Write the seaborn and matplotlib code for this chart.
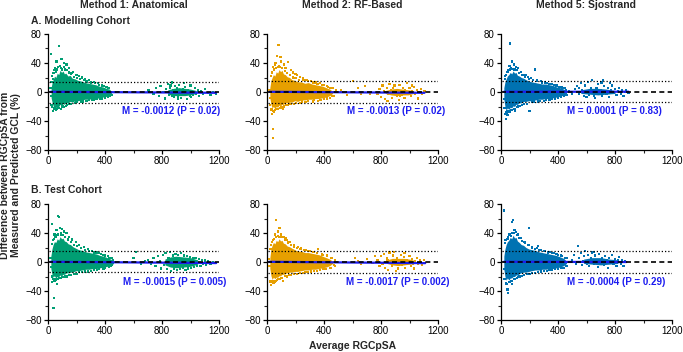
import matplotlib
matplotlib.use('Agg')
import matplotlib.pyplot as plt
import seaborn as sns
import pandas as pd
from matplotlib.ticker import MultipleLocator

# --- chart values ---
methods = ['Method 1: Anatomical', 'Method 2: RF-Based', 'Method 5: Sjostrand']
cohorts = ['A. Modelling Cohort', 'B. Test Cohort']
colors = ['#009E73', '#E69F00', '#0072B2']

slopes = [[-0.0012, -0.0013, 0.0001], [-0.0015, -0.0017, -0.0004]]
p_values = [['0.02', '0.02', '0.83'], ['0.005', '0.002', '0.29']]
loa_upper = [[14.4, 15.5, 14.6], [15.2, 15.2, 15.0]]
loa_lower = [[-14.8, -15.3, -14.4], [-14.4, -14.7, -14.7]]

# dense core of each cloud: x, lower edge, upper edge
core_x_a = [22, 30, 38, 46, 55, 65, 75, 85, 95, 105, 115, 125, 140, 155, 170, 190, 210, 235, 260, 285, 310, 335, 360, 385, 410, 430, 445]
core_x_b = [20, 28, 36, 45, 55, 65, 75, 85, 95, 105, 115, 128, 142, 158, 175, 195, 215, 240, 265, 290, 315, 340, 365, 390, 415, 440, 460]
a1_core_hi = [6, 14, 18, 22, 20, 26, 24, 30, 27, 29, 25, 26, 22, 23, 19, 18, 16, 15, 13, 12, 11, 10, 8, 7, 5, 4, 1]
a1_core_lo = [-8, -15, -20, -18, -22, -19, -20, -17, -19, -16, -17, -15, -15, -13, -14, -12, -12, -11, -10, -10, -9, -9, -8, -7, -6, -5, -2]
a2_core_hi = [6, 16, 20, 24, 22, 28, 26, 31, 28, 30, 25, 24, 21, 20, 17, 16, 14, 14, 12, 13, 11, 10, 9, 8, 6, 4, 1]
a2_core_lo = [-8, -17, -22, -20, -23, -20, -21, -18, -19, -17, -17, -15, -15, -14, -14, -12, -13, -11, -11, -10, -10, -9, -9, -8, -7, -5, -2]
a3_core_hi = [6, 14, 18, 22, 24, 27, 25, 29, 26, 27, 23, 22, 20, 19, 17, 15, 14, 13, 12, 11, 11, 10, 9, 7, 6, 4, 1]
a3_core_lo = [-10, -20, -25, -22, -24, -21, -22, -19, -20, -17, -17, -15, -15, -13, -13, -12, -12, -11, -10, -10, -9, -9, -8, -7, -6, -4, -2]
b1_core_hi = [8, 18, 24, 28, 27, 32, 30, 35, 32, 33, 29, 28, 25, 24, 21, 19, 17, 16, 14, 13, 12, 11, 9, 8, 6, 4, 1]
b1_core_lo = [-9, -17, -21, -19, -22, -20, -20, -18, -19, -17, -17, -15, -15, -14, -14, -12, -12, -11, -10, -10, -9, -9, -8, -7, -6, -5, -2]
b2_core_hi = [6, 18, 23, 27, 25, 30, 28, 32, 29, 30, 26, 25, 22, 21, 19, 17, 15, 15, 13, 13, 12, 11, 10, 8, 6, 4, 1]
b2_core_lo = [-9, -19, -24, -21, -23, -21, -21, -19, -19, -17, -17, -16, -15, -14, -14, -13, -13, -12, -11, -11, -10, -10, -9, -8, -7, -5, -2]
b3_core_hi = [8, 18, 24, 28, 30, 34, 32, 37, 33, 34, 29, 27, 24, 23, 20, 18, 17, 16, 14, 13, 12, 11, 10, 9, 7, 5, 1]
b3_core_lo = [-10, -20, -25, -22, -25, -22, -22, -20, -20, -18, -18, -16, -15, -14, -14, -13, -12, -11, -11, -10, -10, -9, -9, -8, -7, -5, -2]

# thin dense strip inside the far cluster of each panel
a1_far = ([840, 880, 920, 960, 1000, 1040], [-3, -5, -5, -5, -4, -2], [3, 5, 6, 5, 4, 2])
a2_far = ([830, 870, 910, 950, 990, 1030], [-2, -4, -5, -4, -4, -2], [2, 4, 5, 4, 3, 2])
a3_far = ([560, 620, 680, 740, 800], [-2, -3, -4, -3, -2], [3, 5, 5, 4, 2])
b1_far = ([820, 860, 900, 950, 1000, 1050], [-4, -7, -8, -7, -6, -3], [4, 7, 8, 7, 6, 3])
b2_far = ([840, 880, 920, 960, 1000, 1040], [-2, -4, -5, -4, -3, -2], [3, 5, 5, 5, 4, 2])
b3_far = ([580, 640, 700, 760, 820], [-2, -3, -4, -3, -2], [4, 6, 6, 4, 3])

# single points outside the dense cores (x, y)
a1_pts = [(75, 64), (22, 52), (95, 45), (60, 42), (110, 40), (130, 38), (85, 36), (150, 33), (70, 34),
          (45, 30), (120, 31), (175, 28), (200, 24), (165, 26), (240, 20), (260, 18), (290, 16), (320, 14),
          (350, 12), (215, 22), (270, 15), (380, 9), (410, 7), (430, 5), (300, 13),
          (35, -26), (45, -24), (60, -23), (30, -20), (80, -22), (100, -20), (125, -19), (150, -17),
          (190, -15), (230, -13), (270, -12), (310, -11), (340, -10), (380, -9), (420, -7), (445, -4),
          (50, -21), (110, -21), (20, -5), (18, 6), (25, 14),
          (30, 22), (38, 26), (50, 33), (55, 28), (65, 31), (90, 33), (100, 31), (115, 34), (135, 30),
          (145, 27), (160, 25), (185, 21), (205, 19), (225, 18), (250, 16), (275, 14), (300, 12),
          (330, 12), (360, 10), (395, 8), (420, 6), (40, -22), (55, -25), (70, -21), (90, -23),
          (105, -19), (135, -18), (160, -16), (200, -14), (245, -13), (285, -11), (325, -11),
          (365, -10), (400, -8), (435, -5), (25, -18), (33, 18),
          (705, 2), (740, -3), (760, 5), (780, -6), (790, 8), (810, 0), (820, -9), (830, 4), (840, 11),
          (850, -4), (855, 6), (865, -2), (870, 13), (880, 3), (885, -7), (890, 8), (900, -1), (905, 5),
          (915, -5), (920, 10), (930, 1), (935, -8), (945, 4), (950, -3), (960, 7), (970, -1), (975, -10),
          (985, 3), (995, -5), (1000, 9), (1010, 0), (1020, -4), (1030, 5), (1040, -2), (1050, 2),
          (1060, -6), (1075, 1), (1090, -3), (1100, 4), (1120, -1), (1140, -4), (1160, 0), (1180, -2),
          (870, -5), (910, -9), (955, 12), (1005, -7), (925, -3), (895, 2), (860, 9)]
a2_pts = [(81, 65), (70, 50), (95, 48), (150, 41), (60, 40), (120, 38), (100, 42), (85, 36), (40, 34),
          (130, 33), (170, 30), (200, 25), (185, 27), (230, 21), (250, 19), (280, 17), (310, 15), (340, 13),
          (370, 12), (400, 10), (430, 7), (460, 5), (485, 3), (210, 23), (55, 37), (265, 16),
          (42, -51), (40, -63), (35, -30), (50, -27), (30, -25), (65, -24), (80, -23), (100, -21),
          (120, -20), (150, -18), (190, -16), (230, -15), (270, -14), (320, -13), (360, -12), (400, -10),
          (440, -8), (470, -5), (20, -8), (18, 3), (110, -24),
          (28, 22), (35, 27), (48, 31), (62, 33), (78, 35), (92, 34), (108, 33), (125, 29), (140, 26),
          (160, 23), (180, 20), (200, 19), (225, 17), (255, 16), (285, 15), (320, 13), (355, 11),
          (385, 10), (420, 8), (445, 6), (32, -24), (45, -26), (58, -25), (75, -24), (95, -22),
          (115, -21), (135, -18), (165, -17), (205, -15), (245, -13), (285, -12), (330, -11),
          (375, -11), (420, -9), (455, -6), (22, -18),
          (605, 15), (640, 5), (660, -3), (520, 2), (560, -4), (690, 8), (720, -2),
          (775, -2), (790, 4), (800, -7), (810, 9), (820, 1), (830, -10), (840, 6), (850, -3), (860, 11),
          (870, 2), (875, -8), (885, 5), (890, -1), (900, 8), (910, -5), (915, 3), (925, -11), (930, 10),
          (940, 0), (950, -4), (955, 6), (965, -8), (970, 2), (980, 12), (990, -2), (1000, 5), (1010, -6),
          (1020, 1), (1030, 7), (1040, -3), (1050, 3), (1060, -9), (1070, 0), (1080, 4), (1090, -2),
          (1105, 1), (845, -12), (935, -6), (895, 9), (1015, 9)]
a3_pts = [(65, 67), (75, 42), (90, 38), (60, 36), (105, 35), (238, 31), (120, 33), (80, 32), (45, 28),
          (140, 28), (160, 24), (190, 21), (210, 19), (250, 17), (280, 15), (310, 13), (340, 11), (370, 10),
          (410, 7), (430, 5), (455, 3), (30, 18), (175, 23),
          (35, -37), (30, -30), (45, -32), (55, -28), (40, -27), (70, -25), (90, -23), (110, -21),
          (130, -19), (160, -17), (200, -26), (220, -14), (260, -13), (300, -12), (340, -11), (380, -9),
          (420, -7), (460, -4), (20, -10), (100, -26),
          (28, 22), (36, 24), (50, 30), (62, 31), (70, 33), (95, 31), (110, 30), (128, 26), (150, 23),
          (170, 21), (195, 18), (225, 16), (255, 15), (285, 13), (320, 12), (355, 11), (390, 9),
          (425, 7), (445, 5), (25, -22), (33, -28), (42, -29), (60, -27), (80, -25), (95, -23),
          (120, -20), (145, -18), (180, -16), (230, -13), (270, -12), (315, -11), (355, -10),
          (400, -8), (440, -6),
          (480, 1), (500, -3), (520, 4), (535, 8), (550, -2), (560, 12), (570, 3), (580, -6), (590, 9),
          (600, 1), (610, 14), (620, -4), (630, 6), (640, 16), (650, 0), (660, -8), (670, 5), (680, 11),
          (690, -2), (700, 3), (710, -5), (715, 17), (720, 8), (730, 0), (740, -3), (750, 6), (760, -7),
          (770, 2), (780, 9), (790, -1), (800, 4), (810, -4), (820, 1), (830, 6), (840, -2), (850, 3),
          (860, -6), (870, 0), (880, 2), (895, -1), (650, -5), (600, -7), (545, 5), (765, 12), (705, 13)]
b1_pts = [(68, 64), (78, 62), (28, 52), (85, 47), (100, 45), (60, 44), (115, 42), (130, 40), (90, 40),
          (45, 38), (150, 35), (170, 31), (195, 28), (220, 24), (250, 21), (280, 18), (310, 15), (340, 13),
          (370, 11), (400, 9), (430, 6), (455, 3), (620, 14), (35, 30),
          (40, -50), (38, -63), (30, -28), (45, -26), (55, -25), (70, -24), (90, -22), (110, -21),
          (130, -20), (160, -18), (200, -16), (240, -14), (280, -13), (320, -11), (360, -10), (400, -8),
          (440, -6), (20, -7), (18, 5), (65, -30),
          (30, 25), (40, 32), (52, 35), (62, 37), (72, 38), (95, 37), (108, 37), (122, 34), (140, 31),
          (160, 28), (180, 24), (205, 22), (230, 19), (260, 17), (290, 15), (325, 13), (355, 12),
          (385, 10), (420, 8), (445, 5), (26, -20), (35, -24), (48, -23), (62, -24), (80, -22),
          (100, -21), (120, -19), (145, -18), (180, -16), (220, -14), (260, -13), (300, -12),
          (345, -11), (390, -9), (430, -7), (450, -4),
          (700, 3), (720, -2), (740, 5), (755, -6), (770, 8), (785, 1), (795, -9), (805, 10), (815, -4),
          (825, 12), (835, -10), (845, 6), (855, 14), (865, -12), (875, 9), (885, -9), (895, 11),
          (905, -11), (915, 10), (925, -10), (935, 12), (945, -8), (955, 9), (965, -11), (975, 8),
          (985, -9), (995, 7), (1005, -8), (1015, 6), (1025, -7), (1035, 5), (1045, -6), (1060, 4),
          (1070, -5), (1080, 3), (1090, -3), (1100, 2), (1110, -4), (1125, 1), (1140, -2), (1160, 0),
          (1180, -1), (600, 6), (650, -2), (680, 1)]
b2_pts = [(65, 58), (88, 47), (75, 42), (55, 38), (100, 38), (120, 35), (85, 34), (40, 30), (140, 30),
          (160, 28), (190, 24), (215, 21), (240, 19), (270, 17), (300, 15), (330, 14), (360, 18), (390, 10),
          (420, 8), (450, 5), (475, 3), (25, 18), (130, 33),
          (30, -32), (25, -27), (45, -29), (60, -26), (80, -24), (100, -22), (115, -26), (140, -20),
          (170, -18), (210, -16), (250, -15), (290, -14), (330, -12), (370, -11), (410, -10), (450, -8),
          (480, -5), (18, -6), (15, 4),
          (28, 24), (36, 28), (48, 32), (62, 35), (78, 36), (95, 35), (110, 34), (128, 30), (148, 27),
          (168, 24), (190, 21), (210, 19), (235, 18), (260, 16), (290, 15), (320, 14), (350, 12),
          (385, 11), (420, 9), (455, 6), (30, -26), (40, -27), (52, -28), (70, -25), (90, -23),
          (108, -22), (130, -19), (155, -18), (190, -16), (230, -15), (270, -14), (310, -13),
          (350, -12), (395, -10), (440, -8), (470, -4),
          (620, 6), (660, -2), (700, 4), (740, -1), (760, 8), (640, 1),
          (775, 3), (790, -5), (800, 8), (810, -2), (820, 11), (830, -8), (840, 5), (850, -11), (860, 13),
          (870, 0), (880, -6), (885, 9), (890, 14), (900, -3), (910, 6), (920, -9), (930, 2), (940, 10),
          (950, -4), (960, 7), (970, -8), (980, 3), (990, -1), (1000, 8), (1010, -5), (1020, 4),
          (1030, -9), (1040, 1), (1050, 6), (1060, -3), (1075, 2), (1090, -4), (1100, 3), (1110, -1),
          (845, 2), (905, -12), (965, 12), (1025, -2)]
b3_pts = [(23, 71), (86, 58), (75, 55), (197, 47), (95, 44), (105, 41), (60, 38), (120, 38), (140, 33),
          (80, 40), (45, 32), (165, 28), (195, 24), (220, 21), (250, 19), (280, 17), (310, 15), (340, 14),
          (370, 12), (400, 10), (430, 8), (460, 5), (30, 30), (260, 22),
          (51, -43), (45, -38), (35, -30), (55, -28), (70, -26), (90, -24), (110, -22), (130, -20),
          (160, -18), (200, -16), (240, -15), (280, -13), (320, -12), (360, -11), (400, -10), (440, -8),
          (465, -5), (20, -10), (80, -30),
          (28, 26), (36, 30), (50, 35), (65, 38), (72, 36), (92, 40), (112, 37), (130, 33), (150, 29),
          (170, 26), (190, 23), (215, 20), (240, 18), (270, 16), (300, 15), (330, 13), (360, 12),
          (390, 11), (420, 9), (450, 6), (25, -24), (33, -29), (42, -30), (62, -28), (78, -26),
          (98, -24), (120, -21), (145, -19), (180, -17), (220, -15), (260, -14), (300, -12),
          (340, -11), (380, -10), (425, -8), (460, -5),
          (500, 2), (515, 10), (525, -3), (540, 22), (550, 5), (560, 12), (570, -4), (580, 8), (590, 15),
          (600, 1), (610, 10), (620, -6), (630, 6), (640, 13), (650, -2), (660, 9), (670, 3), (680, -7),
          (690, 11), (700, 0), (710, 5), (720, -4), (730, 8), (740, 2), (750, -8), (760, 6), (770, 0),
          (780, 10), (790, -3), (800, 4), (810, -5), (820, 2), (830, 7), (840, -2), (850, 3), (860, -6),
          (870, 1), (880, 0), (575, 1), (605, -3), (655, 14)]

cores = [[(core_x_a, a1_core_lo, a1_core_hi), (core_x_b, a2_core_lo, a2_core_hi), (core_x_b, a3_core_lo, a3_core_hi)],
         [(core_x_b, b1_core_lo, b1_core_hi), (core_x_b, b2_core_lo, b2_core_hi), (core_x_b, b3_core_lo, b3_core_hi)]]
fars = [[a1_far, a2_far, a3_far], [b1_far, b2_far, b3_far]]
points = [[a1_pts, a2_pts, a3_pts], [b1_pts, b2_pts, b3_pts]]

# --- layout ---
W, H = 683, 352
col_left = [48, 267, 501]
row_top = [34, 204]
ax_w, ax_h = 171, 116
label_x = [[522, 558, 465], [527, 556, 464]]
blue = '#1c1cf0'

sns.set_style('ticks')
plt.rcParams['font.family'] = ['Liberation Sans', 'DejaVu Sans']

fig = plt.figure(figsize=(W / 100, H / 100), dpi=100)

for r in range(2):
    for c in range(3):
        ax = fig.add_axes([col_left[c] / W, 1 - (row_top[r] + ax_h) / H, ax_w / W, ax_h / H])
        col = colors[c]
        cx, clo, chi = cores[r][c]
        ax.fill_between(cx, clo, chi, color=col, lw=0, zorder=2)
        fx, flo, fhi = fars[r][c]
        ax.fill_between(fx, flo, fhi, color=col, lw=0, zorder=2)
        df = pd.DataFrame(points[r][c], columns=['avg', 'diff'])
        sns.scatterplot(data=df, x='avg', y='diff', ax=ax, color=col, s=2.5, linewidth=0,
                        edgecolor='none', marker='s', zorder=3, legend=False)

        # limits of agreement
        ax.plot([10, 1200], [loa_upper[r][c]] * 2, color='black', lw=0.9, ls=(0, (1, 1.6)), zorder=4)
        ax.plot([10, 1200], [loa_lower[r][c]] * 2, color='black', lw=0.9, ls=(0, (1, 1.6)), zorder=4)
        # regression line across the data range
        xmin = min(min(cx), df['avg'].min())
        xmax = df['avg'].max()
        line = pd.DataFrame({'x': [xmin, xmax],
                             'y': [0.3 + slopes[r][c] * xmin, 0.3 + slopes[r][c] * xmax]})
        sns.lineplot(data=line, x='x', y='y', ax=ax, color=blue, lw=1.6, zorder=5)
        ax.plot([0, 1200], [0, 0], color='black', lw=1.2, ls=(0, (3, 2)), zorder=6)

        ax.text(label_x[r][c], -26 if r == 0 else -27.5,
                f'M = {slopes[r][c]:.4f} (P = {p_values[r][c]})',
                color=blue, fontsize=7, fontweight='bold', ha='left', va='center', zorder=7)

        ax.set_xlim(0, 1200)
        ax.set_ylim(-80, 80)
        ax.xaxis.set_major_locator(MultipleLocator(400))
        ax.xaxis.set_minor_locator(MultipleLocator(200))
        ax.yaxis.set_major_locator(MultipleLocator(40))
        ax.yaxis.set_minor_locator(MultipleLocator(20))
        ax.tick_params(which='major', length=3, width=0.9, labelsize=7, pad=1.5, colors='black')
        ax.tick_params(which='minor', length=2, width=0.8)
        for side in ['top', 'right']:
            ax.spines[side].set_visible(False)
        for side in ['left', 'bottom']:
            ax.spines[side].set_linewidth(0.9)
            ax.spines[side].set_color('black')
        ax.set_xlabel('')
        ax.set_ylabel('')

# column titles and row labels
for c in range(3):
    fig.text((col_left[c] + ax_w / 2) / W, 1 - 5 / H, methods[c], ha='center', va='center',
             fontsize=7.5, fontweight='bold')
fig.text(31 / W, 1 - 21.5 / H, cohorts[0], ha='left', va='center', fontsize=7.5, fontweight='bold')
fig.text(31 / W, 1 - 190.5 / H, cohorts[1], ha='left', va='center', fontsize=7.5, fontweight='bold')

fig.text(5 / W, 1 - 175 / H, 'Difference between RGCpSA from', rotation=90, ha='center', va='center',
         fontsize=7.5, fontweight='bold')
fig.text(16.5 / W, 1 - 175 / H, 'Measured and Predicted GCL (%)', rotation=90, ha='center', va='center',
         fontsize=7.5, fontweight='bold')
fig.text((col_left[1] + ax_w / 2) / W, 1 - 346 / H, 'Average RGCpSA', ha='center', va='center',
         fontsize=7.5, fontweight='bold')

fig.savefig('out.png', dpi=100)
